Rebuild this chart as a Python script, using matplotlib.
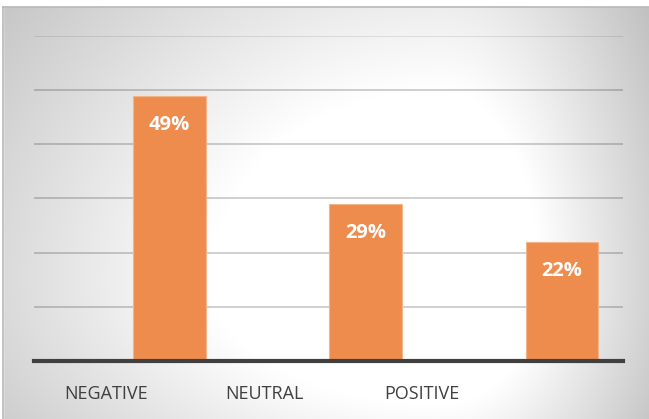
import numpy as np
import matplotlib.pyplot as plt

categories = ["NEGATIVE", "NEUTRAL", "POSITIVE"]
shares = [49, 29, 22]
value_labels = ["49%", "29%", "22%"]

W, H = 649, 419
fig = plt.figure(figsize=(W / 100, H / 100), dpi=100)

# radial grey background, brightest just right of centre
bg = fig.add_axes([0, 0, 1, 1])
yy, xx = np.mgrid[0:H, 0:W].astype(float)
cx, cy = 440.0, 280.0
sx = np.where(xx < cx, 460.0, 200.0)
sy = np.where(yy < cy, 380.0, 250.0)
r = np.hypot((xx - cx) / sx, (yy - cy) / sy)
shade = np.clip(1.0 - 0.32 * np.clip(r - 0.5, 0, None), 0.76, 1.0)
img = np.dstack([shade, shade, shade])
bg.imshow(img, aspect="auto", extent=[0, W, H, 0])
bg.plot([3, 3], [7, H], color="#b8b8b8", lw=1.2)
bg.plot([3, W], [7, 7], color="#b8b8b8", lw=1.2)
bg.fill_between([0, W], 0, 6.5, color="white")
bg.fill_between([0, 2.5], 0, H, color="white")
bg.set_xlim(0, W)
bg.set_ylim(H, 0)
bg.axis("off")

# plot area: 0-60% mapped between y=361 and y=36, x from 34 to 623
ax = fig.add_axes([34 / W, 1 - 361 / H, 589 / W, (361 - 36) / H])
ax.patch.set_alpha(0)
ax.set_xlim(0, 3)
ax.set_ylim(0, 60)

for y in range(10, 61, 10):
    ax.axhline(y, color="#000000", alpha=0.2 if y < 60 else 0.1, lw=1.3, zorder=1)

bar_pos = np.arange(len(categories)) + 0.69
bars = ax.bar(bar_pos, shares, width=0.37, color="#ee8c4d",
              edgecolor="#f4b48a", linewidth=0.8, zorder=2)
for b, lab in zip(bars, value_labels):
    ax.text(b.get_x() + b.get_width() / 2, b.get_height() - 5.4, lab,
            ha="center", va="center", color="white", fontsize=14.5,
            fontweight="bold", family="Open Sans", zorder=3)

ax.axhline(0, color="#404040", lw=3, zorder=4, clip_on=False)

tick_pos = 0.367 + 0.805 * np.arange(len(categories))
ax.set_xticks(tick_pos)
ax.set_xticklabels(categories, fontsize=13, color="#404040", family="Open Sans")
ax.tick_params(axis="x", length=0, pad=17)
ax.set_yticks([])
for s in ax.spines.values():
    s.set_visible(False)

fig.savefig("out.png", dpi=100)
